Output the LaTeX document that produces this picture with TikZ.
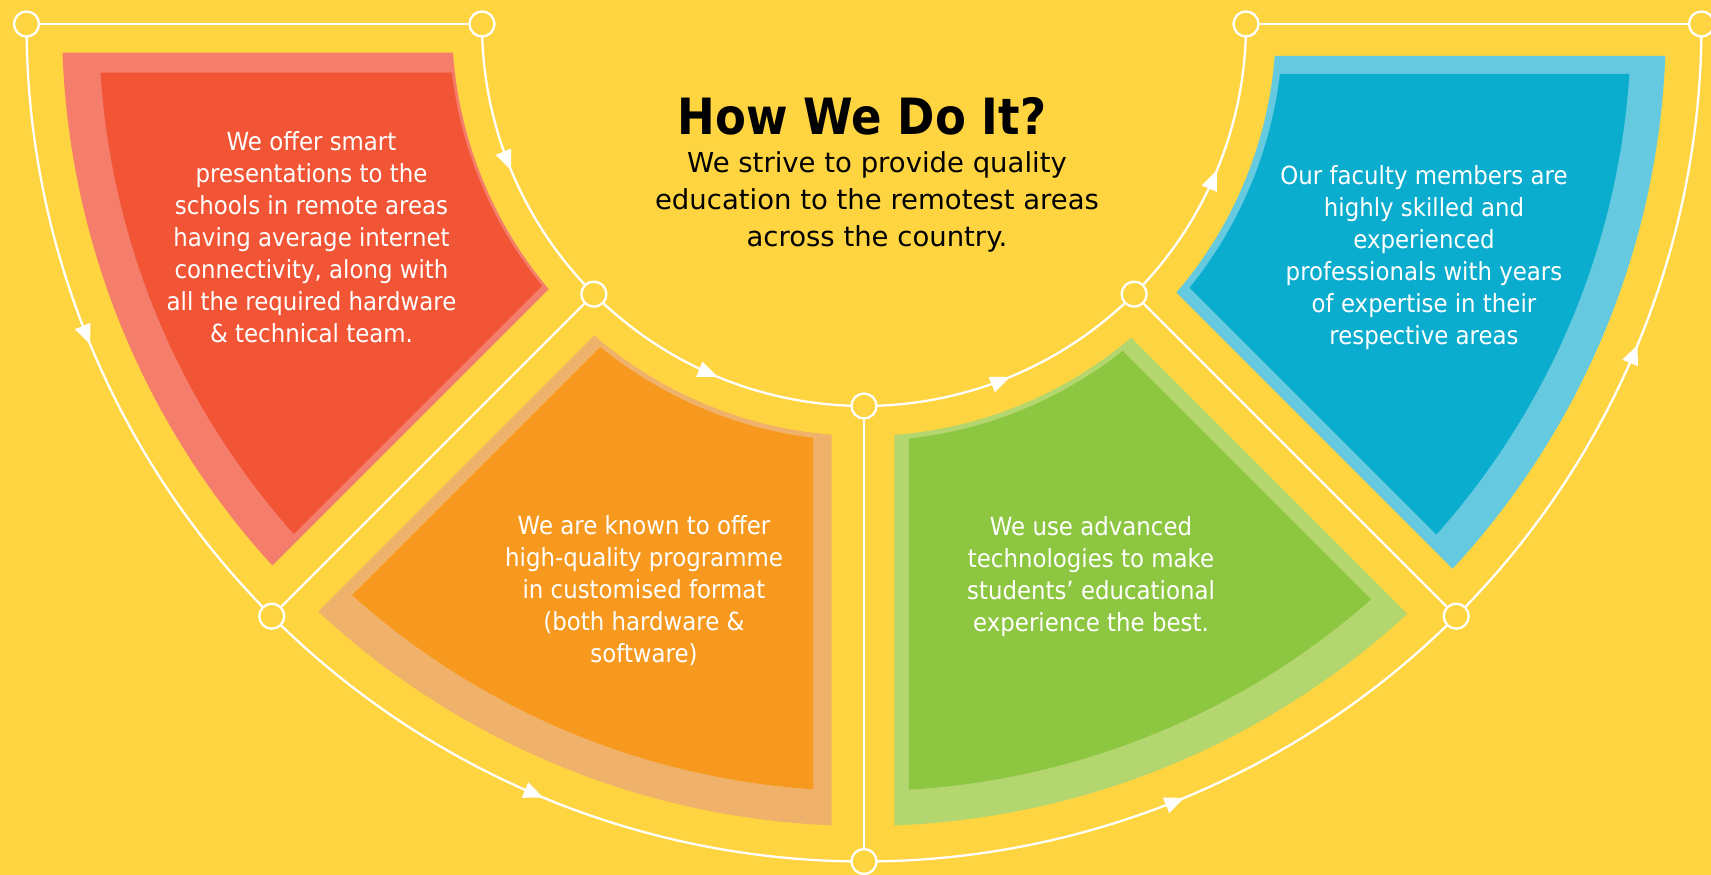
\documentclass[tikz,border=0pt]{standalone}
\usepackage{fontspec}
\setmainfont{DejaVu Sans}[FakeStretch=0.915]
\newfontfamily\subfont{DejaVu Sans}
\newfontfamily\titlefont{DejaVu Sans}[FakeStretch=0.9]
\usetikzlibrary{decorations.markings,arrows.meta}
\definecolor{bgyel}{HTML}{FFD441}
\definecolor{redL}{HTML}{F47D6B}
\definecolor{redD}{HTML}{F15535}
\definecolor{orL}{HTML}{F0B26A}
\definecolor{orD}{HTML}{F8991F}
\definecolor{grL}{HTML}{B3D66F}
\definecolor{grD}{HTML}{8DC641}
\definecolor{blL}{HTML}{65C9E0}
\definecolor{blD}{HTML}{0AADCD}
\pgfdeclarelayer{back}
\pgfsetlayers{back,main}
% #1 start angle, #2 end angle, #3 offset at start side, #4 offset at end side,
% #5 inner radius, #6 outer radius, #7 colour
\newcommand\drawpetal[7]{%
  \pgfmathsetmacro\angA{#1+asin(#3/#6)}%
  \pgfmathsetmacro\angB{#2-asin(#4/#6)}%
  \pgfmathsetmacro\angC{#2-asin(#4/#5)}%
  \pgfmathsetmacro\angD{#1+asin(#3/#5)}%
  \fill[#7] (\angA:#6) arc[start angle=\angA, end angle=\angB, radius=#6]
    -- (\angC:#5) arc[start angle=\angC, end angle=\angD, radius=#5] -- cycle;}
\begin{document}
\begin{tikzpicture}[x=1pt,y=1pt,
  track/.style={draw=white, line width=2.3pt},
  midarrow/.style={postaction={decorate,decoration={markings,
      mark=at position 0.5 with {\arrow{Triangle[length=20pt,width=16pt]}}}}},
  hub/.style={circle, draw=white, fill=bgyel, line width=2.3pt,
      minimum size=25pt, inner sep=0pt},
  boxtext/.style={text=white, align=center, inner sep=0pt,
      font=\fontsize{25}{32}\selectfont}]
\useasboundingbox (0,0) rectangle (1711,875);
\begin{pgfonlayer}{back}
  \fill[bgyel] (0,0) rectangle (1711,875);
\end{pgfonlayer}
\begin{scope}[shift={(864,851)}]
  \begin{pgfonlayer}{back}
    \drawpetal{180}{225}{28.7}{35.4}{412}{802}{redL}
    \drawpetal{180}{225}{48.7}{42.5}{415}{765}{redD}
    \drawpetal{225}{270}{29.7}{32.3}{412}{802}{orL}
    \drawpetal{225}{270}{42}{50.7}{417}{767}{orD}
    \drawpetal{270}{315}{30.3}{33}{412}{802}{grL}
    \drawpetal{270}{315}{44.8}{48.3}{417}{767}{grD}
    \drawpetal{315}{360}{31}{32}{412}{802}{blL}
    \drawpetal{315}{360}{43.8}{50}{419}{767}{blD}
  \end{pgfonlayer}
  % hubs
  \node[hub] (O1) at (180:837.5) {};
  \node[hub] (O2) at (225:837.5) {};
  \node[hub] (O3) at (270:837.5) {};
  \node[hub] (O4) at (315:837.5) {};
  \node[hub] (O5) at (360:837.5) {};
  \node[hub] (I1) at (180:382) {};
  \node[hub] (I2) at (225:382) {};
  \node[hub] (I3) at (270:382) {};
  \node[hub] (I4) at (315:382) {};
  \node[hub] (I5) at (360:382) {};
  % straight links
  \draw[track] (O1) -- (I1);
  \draw[track] (I5) -- (O5);
  \draw[track] (I2) -- (O2);
  \draw[track] (I3) -- (O3);
  \draw[track] (I4) -- (O4);
  % arcs
  \begin{pgfonlayer}{back}
    \draw[track,midarrow] (O1.center) arc[start angle=180,end angle=225,radius=837.5];
    \draw[track,midarrow] (O2.center) arc[start angle=225,end angle=270,radius=837.5];
    \draw[track,midarrow] (O3.center) arc[start angle=270,end angle=315,radius=837.5];
    \draw[track,midarrow] (O4.center) arc[start angle=315,end angle=360,radius=837.5];
    \draw[track,midarrow] (I1.center) arc[start angle=180,end angle=225,radius=382];
    \draw[track,midarrow] (I2.center) arc[start angle=225,end angle=270,radius=382];
    \draw[track,midarrow] (I3.center) arc[start angle=270,end angle=315,radius=382];
    \draw[track,midarrow] (I4.center) arc[start angle=315,end angle=360,radius=382];
  \end{pgfonlayer}
\end{scope}
% texts
\node[font=\titlefont\bfseries\fontsize{50}{60}\selectfont, inner sep=0pt] (title) at (862,759) {How We Do It?};
\node[align=center, inner sep=0pt, font=\subfont\fontsize{27.5}{36.7}\selectfont] (sub) at (877,673)
  {We strive to provide quality\\education to the remotest areas\\across the country.};
\node[boxtext] (tRed) at (311.5,637.5) {We offer smart\\presentations to the\\schools in remote areas\\having average internet\\connectivity, along with\\all the required hardware\\\& technical team.};
\node[boxtext] (tOr) at (644,284) {We are known to offer\\high-quality programme\\in customised format\\(both hardware \&\\software)};
\node[boxtext] (tGr) at (1091,298.5) {We use advanced\\technologies to make\\students’ educational\\experience the best.};
\node[boxtext] (tBl) at (1424,617) {Our faculty members are\\highly skilled and\\experienced\\professionals with years\\of expertise in their\\respective areas};
\end{tikzpicture}
\end{document}
